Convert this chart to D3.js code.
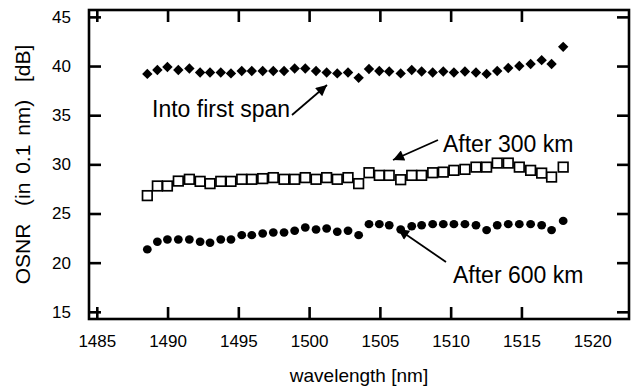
<!DOCTYPE html>
<html><head><meta charset="utf-8">
<script src="https://cdn.jsdelivr.net/npm/d3@7"></script>
<style>
html,body{margin:0;padding:0;background:#fff;}
svg text{font-family:"Liberation Sans",Arial,sans-serif;fill:#000;}
</style></head>
<body><svg id="chart" width="633" height="392"></svg>
<script>
const wavelengths = [1488.57,1489.28,1489.99,1490.76,1491.54,1492.30,1493.00,1493.76,1494.48,1495.24,
  1495.95,1496.72,1497.47,1498.23,1498.98,1499.73,1500.49,1501.24,1501.99,1502.75,
  1503.50,1504.23,1504.96,1505.66,1506.47,1507.25,1507.95,1508.73,1509.48,1510.23,
  1511.01,1511.79,1512.54,1513.29,1514.07,1514.85,1515.65,1516.43,1517.13,1517.95];
const intoFirstSpan = [39.2,39.6,39.9,39.6,39.75,39.35,39.35,39.35,39.25,39.5,
  39.5,39.5,39.5,39.5,39.75,39.75,39.5,39.35,39.25,39.35,
  38.8,39.7,39.5,39.45,39.25,39.6,39.45,39.35,39.45,39.35,
  39.45,39.35,39.2,39.5,39.8,40.0,40.2,40.6,40.2,41.95];
const after300km = [26.82,27.8,27.8,28.3,28.48,28.27,28.04,28.27,28.27,28.48,
  28.48,28.55,28.65,28.48,28.48,28.65,28.48,28.65,28.48,28.65,
  28.04,29.15,28.88,28.88,28.44,28.88,28.88,29.15,29.21,29.39,
  29.49,29.72,29.72,30.13,30.13,29.72,29.39,29.11,28.71,29.72];
const after600km = [21.35,22.12,22.36,22.36,22.36,22.12,22.02,22.36,22.36,22.8,
  22.8,22.97,23.07,23.07,23.24,23.58,23.38,23.48,23.14,23.24,
  22.8,23.92,23.92,23.81,23.38,23.71,23.81,23.92,23.92,23.92,
  23.92,23.81,23.31,23.81,23.92,23.92,23.92,23.81,23.31,24.25];
const xTicks = [1485,1490,1495,1500,1505,1510,1515,1520];
const yTicks = [15,20,25,30,35,40,45];
const seriesLabels = ["Into first span","After 300 km","After 600 km"];
const xTitle = "wavelength [nm]";
const yTitle = "OSNR  (in 0.1 nm)  [dB]";

const svg = d3.select("#chart");
const L = 89, R = 629, T = 10, B = 319;
const x = d3.scaleLinear().domain([1484.45, 1522.6]).range([L, R]);
const y = d3.scaleLinear().domain([14.27, 45.7]).range([B, T]);

const tickLen = 12;
function styleAxis(g, keepLabels){
  g.select(".domain").remove();
  g.selectAll(".tick line").attr("stroke","#000").attr("stroke-width",2.6);
  if(!keepLabels) g.selectAll(".tick text").remove();
  else g.selectAll(".tick text").attr("font-size",17).attr("fill","#000");
}
// bottom
svg.append("g").attr("transform",`translate(0,${B})`)
  .call(d3.axisBottom(x).tickValues(xTicks).tickSizeInner(-tickLen).tickSizeOuter(0).tickPadding(16).tickFormat(d3.format("d")))
  .call(g=>styleAxis(g,true))
  .call(g=>g.selectAll(".tick").filter(d=>d===1520).select("line").remove());
// top
svg.append("g").attr("transform",`translate(0,${T})`)
  .call(d3.axisTop(x).tickValues(xTicks).tickSizeInner(-tickLen).tickSizeOuter(0))
  .call(g=>styleAxis(g,false))
  .call(g=>g.selectAll(".tick").filter(d=>d===1520).select("line").remove());
// left
svg.append("g").attr("transform",`translate(${L},0)`)
  .call(d3.axisLeft(y).tickValues(yTicks).tickSizeInner(-tickLen).tickSizeOuter(0).tickPadding(18).tickFormat(d3.format("d")))
  .call(g=>styleAxis(g,true));
// right
svg.append("g").attr("transform",`translate(${R},0)`)
  .call(d3.axisRight(y).tickValues(yTicks).tickSizeInner(-tickLen).tickSizeOuter(0))
  .call(g=>styleAxis(g,false));

// frame
svg.append("rect").attr("x",L).attr("y",T).attr("width",R-L).attr("height",B-T)
  .attr("fill","none").attr("stroke","#000").attr("stroke-width",2.6);

// titles
svg.append("text").attr("x",(L+R)/2).attr("y",382).attr("text-anchor","middle")
  .attr("font-size",19).text(xTitle);
svg.append("text").attr("transform",`translate(30,${(T+B)/2}) rotate(-90)`)
  .attr("text-anchor","middle").attr("font-size",21).style("white-space","pre")
  .style("word-spacing","3px").text(yTitle);

// data
const data = wavelengths.map((w,i)=>({w, a:intoFirstSpan[i], b:after300km[i], c:after600km[i]}));
const diamond = "M0,-5.2L5.2,0L0,5.2L-5.2,0Z";
svg.append("g").selectAll("path").data(data).join("path")
  .attr("d",diamond).attr("transform",d=>`translate(${x(d.w)},${y(d.a)})`).attr("fill","#000");
svg.append("g").selectAll("rect").data(data).join("rect")
  .attr("x",d=>x(d.w)-4.8).attr("y",d=>y(d.b)-4.8).attr("width",9.6).attr("height",9.6)
  .attr("fill","#fff").attr("stroke","#000").attr("stroke-width",1.7);
svg.append("g").selectAll("ellipse").data(data).join("ellipse")
  .attr("cx",d=>x(d.w)).attr("cy",d=>y(d.c)).attr("rx",4.4).attr("ry",4.2).attr("fill","#000");

// annotations
svg.append("defs").append("marker").attr("id","ah").attr("viewBox","0 0 10 10")
  .attr("refX",10).attr("refY",5).attr("markerWidth",14).attr("markerHeight",11)
  .attr("markerUnits","userSpaceOnUse").attr("orient","auto")
  .append("path").attr("d","M0,0L10,5L0,10Z").attr("fill","#000");
const ann = [
  {t:seriesLabels[0], tx:152, ty:117, x1:292, y1:115, x2:327, y2:85},
  {t:seriesLabels[1], tx:443, ty:152, x1:438, y1:140, x2:393, y2:160},
  {t:seriesLabels[2], tx:453, ty:283, x1:446, y1:262, x2:398, y2:229}
];
ann.forEach(a=>{
  svg.append("text").attr("x",a.tx).attr("y",a.ty).attr("font-size",23).text(a.t);
  svg.append("line").attr("x1",a.x1).attr("y1",a.y1).attr("x2",a.x2).attr("y2",a.y2)
    .attr("stroke","#000").attr("stroke-width",1.8).attr("marker-end","url(#ah)");
});
</script></body></html>
